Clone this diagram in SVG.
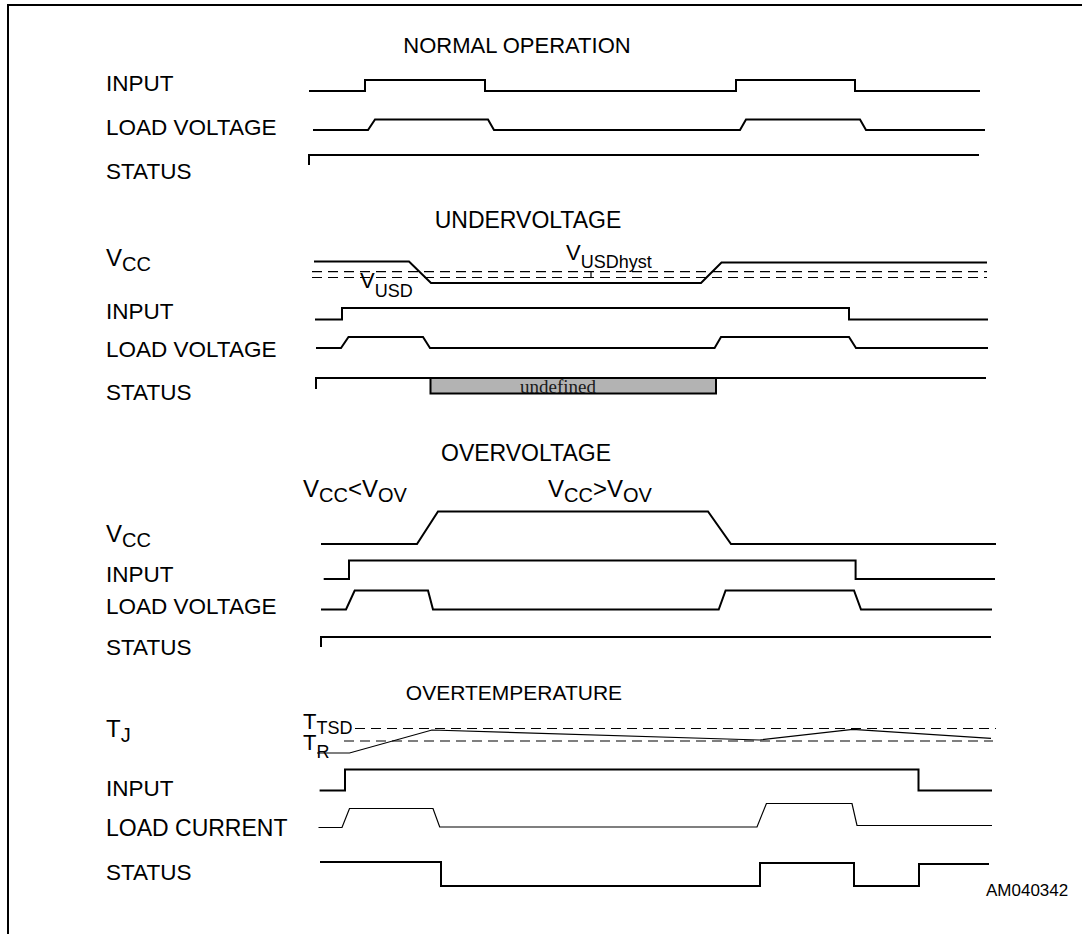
<svg xmlns="http://www.w3.org/2000/svg" width="1082" height="934" viewBox="0 0 1082 934">
<style>
text{font-family:"Liberation Sans",Arial,Helvetica,sans-serif;fill:#000}
.l{font-size:22.5px}
.s{font-size:22px}
.sb{font-size:18px}
.s2{font-size:24px}
.sb2{font-size:20px}
.w{fill:none;stroke:#000;stroke-width:2}
.n{fill:none;stroke:#000;stroke-width:1.2}
.d{fill:none;stroke:#000;stroke-width:1.2;stroke-dasharray:10 6}
</style>
<rect width="1082" height="934" fill="#fff"/>
<path id="frame" d="M8,934 V5 H1082" fill="none" stroke="#000" stroke-width="2"/>

<g id="normal">
<text x="517" y="53" text-anchor="middle" style="font-size:22px">NORMAL OPERATION</text>
<g id="n-input"><text class="l" x="106" y="91">INPUT</text>
<path class="w" d="M309,91 H365 V80 H485 V91 H736 V80 H855 V91 H980"/></g>
<g id="n-load"><text class="l" x="106" y="135">LOAD VOLTAGE</text>
<path class="w" d="M313,130 H368 L375,119.5 H488 L494,130 H740 L746,119.5 H860 L866,130 H985"/></g>
<g id="n-status"><text class="l" x="106" y="179">STATUS</text>
<path class="w" d="M309,165 V155 H979"/></g>
</g>

<g id="undervoltage">
<text x="528" y="228" text-anchor="middle" style="font-size:23px">UNDERVOLTAGE</text>
<g id="u-vcc"><text class="s2" x="106" y="266">V<tspan class="sb2" dy="5">CC</tspan></text>
<path class="d" d="M312,271.7 H987 M312,277.5 H987"/>
<path class="w" d="M314,261.5 H409 L431,283 H701 L721.5,262.5 H987"/>
<path class="n" d="M583,277.5 H591 V271.5"/>
<text class="s" x="566" y="260">V<tspan class="sb" dy="7.5">USDhyst</tspan></text>
<text class="s" x="360" y="288">V<tspan class="sb" dy="9">USD</tspan></text></g>
<g id="u-input"><text class="l" x="106" y="319">INPUT</text>
<path class="w" d="M315,319.5 H342 V308 H849 V319.5 H988"/></g>
<g id="u-load"><text class="l" x="106" y="357">LOAD VOLTAGE</text>
<path class="w" d="M316,348 H341 L348.5,337 H423 L430,348 H714.6 L721,337 H849 L856,348 H988"/></g>
<g id="u-status"><text class="l" x="106" y="400">STATUS</text>
<path class="w" d="M316,389 V378 H986"/>
<rect x="430.5" y="378" width="285.5" height="15.5" fill="#b3b3b3" stroke="#000" stroke-width="2"/>
<text x="558" y="392.5" text-anchor="middle" style="font-family:'Liberation Serif','Times New Roman',serif;font-size:19px;fill:#1a1a1a">undefined</text></g>
</g>

<g id="overvoltage">
<text x="526" y="461" text-anchor="middle" style="font-size:23px">OVERVOLTAGE</text>
<text class="s2" x="303" y="497">V<tspan class="sb2" dy="5">CC</tspan><tspan dy="-5">&lt;V</tspan><tspan class="sb2" dy="5">OV</tspan></text>
<text class="s2" x="548" y="497">V<tspan class="sb2" dy="5">CC</tspan><tspan dy="-5">&gt;V</tspan><tspan class="sb2" dy="5">OV</tspan></text>
<g id="o-vcc"><text class="s2" x="106" y="542">V<tspan class="sb2" dy="5">CC</tspan></text>
<path class="w" d="M321,544 H417 L438,511.5 H708 L731,544 H996"/></g>
<g id="o-input"><text class="l" x="106" y="582">INPUT</text>
<path class="w" d="M323.7,579 H349 V560.5 H855.6 V579 H995"/></g>
<g id="o-load"><text class="l" x="106" y="613.5">LOAD VOLTAGE</text>
<path class="w" d="M321,609.5 H346 L354.7,590.5 H428 L433,609.5 H718.7 L725.6,590.5 H854 L861,609.5 H992"/></g>
<g id="o-status"><text class="l" x="106" y="655">STATUS</text>
<path class="w" d="M321,647 V637 H991"/></g>
</g>

<g id="overtemperature">
<text x="514" y="700" text-anchor="middle" style="font-size:21px">OVERTEMPERATURE</text>
<g id="t-tj"><text class="s2" x="106" y="737">T<tspan class="sb2" dy="5">J</tspan></text>
<text class="s" x="303" y="729">T<tspan class="sb" dy="5">TSD</tspan></text>
<text class="s" x="303" y="750">T<tspan class="sb" dy="8">R</tspan></text>
<path class="d" d="M355,728.5 H996 M344,741 H993"/>
<path class="n" d="M317,753 H349.5 L432,730 L759.5,740 L852.8,729.3 L991,738.3"/></g>
<g id="t-input"><text class="l" x="106" y="796">INPUT</text>
<path class="w" d="M319.6,790.5 H345 V769.5 H918.5 V790.5 H992"/></g>
<g id="t-load"><text x="106" y="836" style="font-size:23px">LOAD CURRENT</text>
<path class="n" d="M318.5,827.5 H342 L349.5,808.5 H433 L439.7,827 H757 L766.4,803.5 H852 L857,825.5 H992"/></g>
<g id="t-status"><text class="l" x="106" y="880">STATUS</text>
<path class="w" d="M320,862 H441 V886 H760 V863 H854 V886 H919 V864 H989"/></g>
</g>
<text x="986" y="896" style="font-size:17px">AM040342</text>
<g id="connectors"/>
</svg>
